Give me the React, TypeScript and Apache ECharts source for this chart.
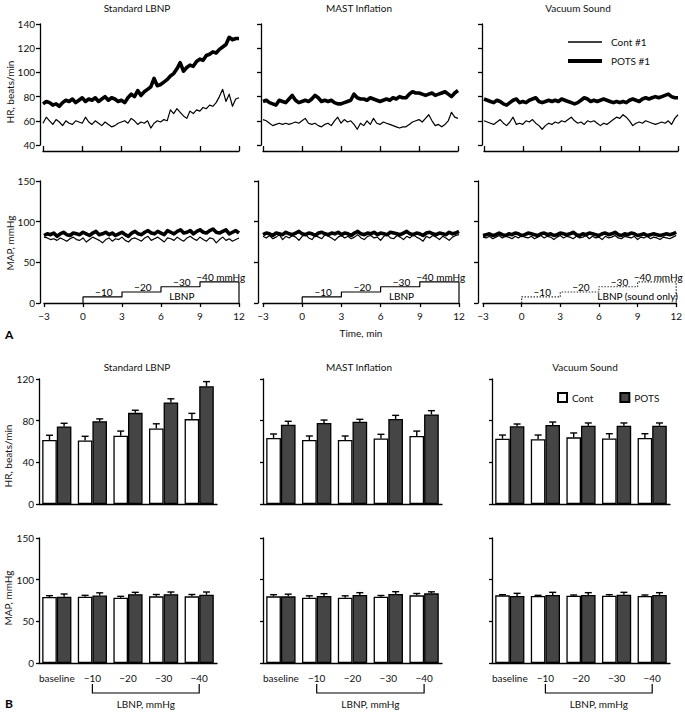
import React, { useEffect, useRef } from 'react';
import * as echarts from 'echarts';

// ---------- DATA ----------
const times = [-3,-2.75,-2.5,-2.25,-2,-1.75,-1.5,-1.25,-1,-0.75,-0.5,-0.25,0,0.25,0.5,0.75,1,1.25,1.5,1.75,2,2.25,2.5,2.75,3,3.25,3.5,3.75,4,4.25,4.5,4.75,5,5.25,5.5,5.75,6,6.25,6.5,6.75,7,7.25,7.5,7.75,8,8.25,8.5,8.75,9,9.25,9.5,9.75,10,10.25,10.5,10.75,11,11.25,11.5,11.75,12];

const hrStdPots = [74,76,75,73,74,72,75,77,76,78,75,77,79,76,78,77,79,76,78,80,77,79,78,76,77,75,79,82,80,85,81,84,86,88,95,89,90,92,94,97,99,103,108,101,104,106,105,109,111,110,114,115,117,116,119,121,123,129,127,128,128];
const hrStdCont = [58,63,60,57,61,59,56,60,58,57,60,59,58,63,59,57,60,58,56,59,57,55,56,58,59,60,58,62,60,57,59,58,60,54,58,60,59,61,60,69,66,70,67,64,62,68,66,69,68,71,70,73,72,75,80,86,76,82,72,78,79];
const hrMastPots = [76,77,75,74,73,77,76,75,78,81,77,75,76,77,76,78,81,79,76,77,76,77,75,74,74,75,76,77,82,79,78,78,77,79,78,77,76,77,78,77,79,78,80,79,79,82,84,83,83,82,81,82,83,81,82,83,84,82,80,83,85];
const hrMastCont = [61,60,58,56,57,58,57,58,57,58,59,58,60,62,58,57,58,56,55,57,58,56,60,63,58,61,59,60,57,53,58,56,60,57,62,58,57,59,58,57,56,55,54,55,55,57,59,60,61,59,62,65,60,56,57,55,57,60,67,63,62];
const hrVacPots = [78,77,76,75,77,76,74,73,75,77,78,75,76,75,77,78,79,76,75,76,77,76,77,76,78,77,76,75,74,75,77,79,78,76,77,76,77,78,77,76,75,76,75,76,75,77,78,77,76,78,79,78,79,80,79,80,81,82,80,79,79];
const hrVacCont = [60,59,58,57,59,61,58,56,59,63,57,58,57,60,59,61,58,56,53,56,58,57,59,58,60,59,61,63,60,58,59,57,60,59,60,58,56,58,57,59,61,63,62,65,63,60,56,58,59,58,60,59,58,57,58,59,58,60,57,62,65];

const mapStdPots = [83,85,84,86,82,85,87,84,83,86,85,84,87,85,83,86,88,84,85,87,84,86,83,85,87,84,82,86,88,85,84,87,89,86,85,88,86,84,89,87,85,88,90,86,87,89,85,88,90,87,86,89,91,87,86,88,90,85,87,89,86];
const mapStdCont = [81,80,78,79,77,80,78,76,79,81,78,77,80,75,78,81,79,77,74,78,80,76,79,78,81,77,75,79,80,78,76,80,82,77,79,81,78,75,80,79,77,81,78,76,80,82,79,77,81,78,76,80,79,74,78,81,77,79,76,78,80];
const mapMastPots = [84,86,85,83,86,85,84,87,85,84,86,88,85,84,86,85,83,86,87,85,84,86,85,87,84,86,85,83,86,88,85,84,86,85,87,84,86,85,84,87,86,85,84,86,88,85,84,86,85,83,86,87,85,84,86,85,84,87,85,86,88];
const mapMastCont = [82,80,83,79,81,84,78,82,80,83,81,77,82,84,80,78,83,81,79,84,82,80,77,81,83,80,82,79,81,84,80,78,82,83,80,81,77,82,84,80,79,83,81,78,82,80,84,81,79,76,82,80,83,81,78,82,80,77,81,83,84];
const mapVacPots = [83,84,85,83,84,86,84,83,85,84,86,85,83,84,86,85,84,83,85,86,84,85,83,84,86,85,84,85,87,84,83,85,84,86,85,84,83,85,86,84,85,87,84,83,85,84,86,85,83,84,85,83,84,85,84,83,84,85,84,85,87];
const mapVacCont = [81,80,82,79,81,83,80,82,81,79,82,80,83,81,80,82,79,81,83,80,82,81,78,81,83,80,82,81,79,82,80,81,83,79,82,80,81,78,82,80,81,83,80,79,82,81,80,82,78,81,80,82,79,81,80,78,81,80,79,81,83];

const lbnpStepStarts = [0, 3, 6, 9];
const lbnpStepEnds = [3, 6, 9, 12];
const lbnpStepHeights = [7.5, 13.5, 20, 26];
const lbnpLabels = ['−10', '−20', '−30', '−40 mmHg'];
const lbnpLabelX = [1.6, 4.6, 7.6, 10.6];

const barCategories = ['baseline', '−10', '−20', '−30', '−40'];

const hrStdContMean = [61.5, 61, 65.5, 72.5, 81.5];
const hrStdContErr = [4.5, 4, 4.5, 4.5, 5.5];
const hrStdPotsMean = [74.5, 79.5, 87.5, 97.5, 113];
const hrStdPotsErr = [3, 2.2, 2.5, 3.5, 4.5];
const hrMastContMean = [63.4, 61.4, 61.4, 63, 65.3];
const hrMastContErr = [3.8, 3.9, 3.9, 3.9, 4.7];
const hrMastPotsMean = [76.2, 77.8, 79, 81.6, 86];
const hrMastPotsErr = [3.2, 2.8, 2.3, 3.5, 3.6];
const hrVacContMean = [62.7, 62.1, 64, 63, 63.4];
const hrVacContErr = [3.5, 4.1, 4.2, 4.5, 4.1];
const hrVacPotsMean = [74.6, 75.8, 75.2, 75.2, 75.2];
const hrVacPotsErr = [2.2, 2.9, 2.6, 2.6, 2.6];

const mapStdContMean = [79.2, 79.6, 78.4, 80, 80];
const mapStdContErr = [1.6, 1.6, 1.6, 2.2, 2.2];
const mapStdPotsMean = [79.6, 81, 82.6, 82.6, 82];
const mapStdPotsErr = [3.2, 3.2, 2.2, 2.6, 3.2];
const mapMastContMean = [80, 78.4, 78.4, 79.6, 81.2];
const mapMastContErr = [2, 2.2, 2.2, 1.4, 2.2];
const mapMastPotsMean = [80, 80.4, 81.6, 82.8, 83.6];
const mapMastPotsErr = [2.6, 2.8, 2.8, 2.8, 1.8];
const mapVacContMean = [81.2, 80.4, 80.8, 80.8, 80.4];
const mapVacContErr = [0.8, 0.8, 0.8, 1.2, 1.2];
const mapVacPotsMean = [80.4, 81.6, 81.6, 82, 81.6];
const mapVacPotsErr = [3.2, 3.2, 2.8, 2.8, 2.8];

const panelTitles = ['Standard LBNP', 'MAST Inflation', 'Vacuum Sound'];
const lineLegendNames = ['Cont #1', 'POTS #1'];

// ---------- LAYOUT / STYLE ----------
const FONT = 'Lato, "DejaVu Sans", sans-serif';
const INK = '#111';
const BAR_GAP = 0.18;
const POTS_W = 3.6;
const CONT_W = 1.2;

const aHrTop = 24, aHrH = 121;
const aMapTop = 181, aMapH = 122;
const bHrTop = 379, bHrH = 125;
const bMapTop = 538, bMapH = 125;
const aHrLefts = [43, 263, 484], aHrWidths = [196, 195, 194], aHrYOff = [3, 2, 2];
const aMapLefts = [44, 263, 483], aMapWidths = [195, 196, 196], aMapYOff = [4, 5, 5];
const bLefts = [39, 263, 492], bWidths = [178, 179, 178];
const titleCentersA = [137, 359, 578];
const titleCentersB = [137, 359, 585];

const axisLine = { show: true, onZero: false, lineStyle: { color: '#000', width: 1.3 } };
const tickStyle = { color: '#000', width: 1.3 };
const labelStyle = { color: INK, fontSize: 10, fontFamily: FONT };

function buildOption() {
  const grid: any[] = [];
  const xAxis: any[] = [];
  const yAxis: any[] = [];
  const series: any[] = [];
  const graphic: any[] = [];

  const hrPots = [hrStdPots, hrMastPots, hrVacPots];
  const hrCont = [hrStdCont, hrMastCont, hrVacCont];
  const mapPots = [mapStdPots, mapMastPots, mapVacPots];
  const mapCont = [mapStdCont, mapMastCont, mapVacCont];
  const bHrC = [hrStdContMean, hrMastContMean, hrVacContMean];
  const bHrCe = [hrStdContErr, hrMastContErr, hrVacContErr];
  const bHrP = [hrStdPotsMean, hrMastPotsMean, hrVacPotsMean];
  const bHrPe = [hrStdPotsErr, hrMastPotsErr, hrVacPotsErr];
  const bMapC = [mapStdContMean, mapMastContMean, mapVacContMean];
  const bMapCe = [mapStdContErr, mapMastContErr, mapVacContErr];
  const bMapP = [mapStdPotsMean, mapMastPotsMean, mapVacPotsMean];
  const bMapPe = [mapStdPotsErr, mapMastPotsErr, mapVacPotsErr];

  const pairs = (arr: number[]) => times.map((t, i) => [t, arr[i]]);
  const traceSeries = (gi: number, name: string, arr: number[], w: number) => ({
    name, type: 'line', xAxisIndex: gi, yAxisIndex: gi, data: pairs(arr),
    symbol: 'none', showSymbol: false, silent: true,
    lineStyle: { color: '#000', width: w, join: 'round' }, itemStyle: { color: '#000' },
  });

  // A HR grids 0..2
  for (let p = 0; p < 3; p++) {
    const gi = grid.length;
    grid.push({ left: aHrLefts[p], top: aHrTop, width: aHrWidths[p], height: aHrH });
    xAxis.push({
      gridIndex: gi, type: 'value', min: -3, max: 12, interval: 3, offset: 6,
      axisLine, axisTick: { show: true, inside: true, length: 5, lineStyle: tickStyle },
      axisLabel: { show: false }, splitLine: { show: false },
    });
    yAxis.push({
      gridIndex: gi, type: 'value', min: 40, max: 140, interval: 20, offset: aHrYOff[p],
      axisLine, axisTick: { show: true, length: 4, lineStyle: tickStyle },
      axisLabel: { ...labelStyle, show: p === 0, margin: 5 }, splitLine: { show: false },
    });
    series.push(traceSeries(gi, lineLegendNames[1], hrPots[p], POTS_W));
    series.push(traceSeries(gi, lineLegendNames[0], hrCont[p], CONT_W));
  }

  // A MAP grids 3..5
  for (let p = 0; p < 3; p++) {
    const gi = grid.length;
    grid.push({ left: aMapLefts[p], top: aMapTop, width: aMapWidths[p], height: aMapH });
    xAxis.push({
      gridIndex: gi, type: 'value', min: -3, max: 12, interval: 3,
      axisLine, axisTick: { show: true, length: 4, lineStyle: tickStyle },
      axisLabel: { ...labelStyle, margin: 8, formatter: (v: number) => (v < 0 ? '−' + Math.abs(v) : String(v)) },
      splitLine: { show: false },
      name: p === 1 ? 'Time, min' : '', nameLocation: 'middle', nameGap: 25,
      nameTextStyle: { ...labelStyle },
    });
    yAxis.push({
      gridIndex: gi, type: 'value', min: 0, max: 150, interval: 50, offset: aMapYOff[p],
      axisLine, axisTick: { show: true, length: 4, lineStyle: tickStyle },
      axisLabel: { ...labelStyle, show: p === 0, margin: 5 }, splitLine: { show: false },
    });
    series.push(traceSeries(gi, lineLegendNames[1], mapPots[p], POTS_W));
    series.push(traceSeries(gi, lineLegendNames[0], mapCont[p], CONT_W));

    const stepPts: number[][] = [[lbnpStepStarts[0], 0]];
    lbnpStepStarts.forEach((s, i) => {
      stepPts.push([s, lbnpStepHeights[i]]);
      stepPts.push([lbnpStepEnds[i], lbnpStepHeights[i]]);
    });
    stepPts.push([lbnpStepEnds[lbnpStepEnds.length - 1], 0]);
    const dotted = p === 2;
    series.push({
      name: 'lbnp-step', type: 'line', xAxisIndex: gi, yAxisIndex: gi, data: stepPts,
      symbol: 'none', silent: true, z: 3,
      lineStyle: { color: dotted ? '#333' : '#000', width: 1.2, type: dotted ? [1.5, 1.5] : 'solid' },
    });
    const lbls: any[] = lbnpLabels.map((txt, i) => ({ value: [lbnpLabelX[i], lbnpStepHeights[i]], name: txt }));
    lbls.push({
      value: [dotted ? 9.0 : 7.6, 8], name: dotted ? 'LBNP (sound only)' : 'LBNP',
      label: { position: 'inside' },
    });
    series.push({
      name: 'lbnp-labels', type: 'scatter', xAxisIndex: gi, yAxisIndex: gi, data: lbls,
      symbol: 'circle', symbolSize: 0.01, itemStyle: { color: '#000', opacity: 1 }, silent: true, z: 4,
      label: {
        show: true, position: 'top', distance: 0, formatter: '{b}',
        color: '#000', opacity: 1, fontSize: 10, fontFamily: FONT, textBorderWidth: 0,
      },
    });
  }

  const errSeries = (gi: number, means: number[], errs: number[], side: number) => ({
    name: 'err', type: 'custom', xAxisIndex: gi, yAxisIndex: gi, z: 5, silent: true,
    data: means.map((m, i) => [i, m, errs[i]]),
    renderItem: (_params: any, api: any) => {
      const i = api.value(0), m = api.value(1), e = api.value(2);
      const base = api.coord([i, m]);
      const top = api.coord([i, m + e]);
      const bw = api.size([1, 0])[0];
      const barW = (bw * (1 - BAR_GAP)) / 2;
      const x = base[0] + (side * barW) / 2;
      const cap = 3.5;
      const st = { stroke: '#000', lineWidth: 1.4 };
      return {
        type: 'group',
        children: [
          { type: 'line', shape: { x1: x, y1: base[1], x2: x, y2: top[1] }, style: st },
          { type: 'line', shape: { x1: x - cap, y1: top[1], x2: x + cap, y2: top[1] }, style: st },
        ],
      };
    },
  });

  const barPair = (gi: number, cm: number[], ce: number[], pm: number[], pe: number[]) => {
    series.push({
      name: 'Cont', type: 'bar', xAxisIndex: gi, yAxisIndex: gi, data: cm,
      barGap: '0%', barCategoryGap: BAR_GAP * 100 + '%', silent: true,
      itemStyle: { color: '#fff', borderColor: '#000', borderWidth: 1.3 },
    });
    series.push({
      name: 'POTS', type: 'bar', xAxisIndex: gi, yAxisIndex: gi, data: pm,
      barGap: '0%', barCategoryGap: BAR_GAP * 100 + '%', silent: true,
      itemStyle: { color: '#454545', borderColor: '#000', borderWidth: 1.3 },
    });
    series.push(errSeries(gi, cm, ce, -1));
    series.push(errSeries(gi, pm, pe, 1));
  };

  // B HR grids 6..8
  for (let p = 0; p < 3; p++) {
    const gi = grid.length;
    grid.push({ left: bLefts[p], top: bHrTop, width: bWidths[p], height: bHrH });
    xAxis.push({
      gridIndex: gi, type: 'category', data: barCategories,
      axisLine, axisTick: { show: false }, axisLabel: { show: false },
    });
    yAxis.push({
      gridIndex: gi, type: 'value', min: 0, max: 120, interval: 40,
      axisLine, axisTick: { show: true, length: 3, lineStyle: tickStyle },
      axisLabel: { ...labelStyle, show: p === 0, margin: 5 }, splitLine: { show: false },
    });
    barPair(gi, bHrC[p], bHrCe[p], bHrP[p], bHrPe[p]);
  }

  // B MAP grids 9..11
  for (let p = 0; p < 3; p++) {
    const gi = grid.length;
    grid.push({ left: bLefts[p], top: bMapTop, width: bWidths[p], height: bMapH });
    xAxis.push({
      gridIndex: gi, type: 'category', data: barCategories,
      axisLine, axisTick: { show: false }, axisLabel: { ...labelStyle, margin: 10, interval: 0 },
    });
    yAxis.push({
      gridIndex: gi, type: 'value', min: 0, max: 150, interval: 50,
      axisLine, axisTick: { show: true, length: 3, lineStyle: tickStyle },
      axisLabel: { ...labelStyle, show: p === 0, margin: 5 }, splitLine: { show: false },
    });
    barPair(gi, bMapC[p], bMapCe[p], bMapP[p], bMapPe[p]);

    const bw = bWidths[p] / barCategories.length;
    const x1 = bLefts[p] + bw * 1.5;
    const x2 = bLefts[p] + bw * 4.5;
    graphic.push({
      type: 'polyline', silent: true,
      shape: { points: [[x1, 684], [x1, 693], [x2, 693], [x2, 684]] },
      style: { stroke: '#000', lineWidth: 1.2, fill: null },
    });
    graphic.push({
      type: 'text', x: (x1 + x2) / 2, y: 704,
      style: { text: 'LBNP, mmHg', fill: INK, font: `10px ${FONT}`, align: 'center', verticalAlign: 'middle' },
    });
  }

  // titles
  panelTitles.forEach((t, p) => {
    graphic.push({
      type: 'text', x: titleCentersA[p], y: 8,
      style: { text: t, fill: INK, font: `10px ${FONT}`, align: 'center', verticalAlign: 'middle' },
    });
    graphic.push({
      type: 'text', x: titleCentersB[p], y: 367,
      style: { text: t, fill: INK, font: `10px ${FONT}`, align: 'center', verticalAlign: 'middle' },
    });
  });

  const yName = (text: string, x: number, y: number) => ({
    type: 'text', x, y, rotation: Math.PI / 2,
    style: { text, fill: INK, font: `10px ${FONT}`, align: 'center', verticalAlign: 'middle' },
  });
  graphic.push(yName('HR, beats/min', 10, 92));
  graphic.push(yName('MAP, mmHg', 10, 243));
  graphic.push(yName('HR, beats/min', 8, 456));
  graphic.push(yName('MAP, mmHg', 8, 598));

  // line legend (panel A, Vacuum Sound)
  const legY = [42, 61];
  const legW = [CONT_W + 0.2, POTS_W + 0.4];
  lineLegendNames.forEach((nm, i) => {
    graphic.push({
      type: 'line', silent: true,
      shape: { x1: 568, y1: legY[i], x2: 602, y2: legY[i] },
      style: { stroke: '#000', lineWidth: legW[i] },
    });
    graphic.push({
      type: 'text', x: 611, y: legY[i],
      style: { text: nm, fill: INK, font: `10px ${FONT}`, align: 'left', verticalAlign: 'middle' },
    });
  });

  graphic.push({
    type: 'text', x: 5, y: 334,
    style: { text: 'A', fill: '#000', font: `bold 12px ${FONT}`, align: 'left', verticalAlign: 'middle' },
  });
  graphic.push({
    type: 'text', x: 5, y: 703,
    style: { text: 'B', fill: '#000', font: `bold 12px ${FONT}`, align: 'left', verticalAlign: 'middle' },
  });

  return {
    animation: false,
    backgroundColor: '#fff',
    textStyle: { fontFamily: FONT },
    grid, xAxis, yAxis, series, graphic,
    legend: [
      {
        data: ['Cont', 'POTS'], orient: 'horizontal', left: 552, top: 387, icon: 'rect',
        itemWidth: 9, itemHeight: 9, itemGap: 26, selectedMode: false,
        textStyle: { ...labelStyle },
      },
    ],
  };
}

export default function App() {
  const ref = useRef<HTMLDivElement>(null);
  useEffect(() => {
    if (!ref.current) return;
    const chart = echarts.init(ref.current, null, { renderer: 'svg' });
    chart.setOption(buildOption() as any);
    return () => chart.dispose();
  }, []);
  return (
    <div
      ref={ref}
      style={{ position: 'absolute', left: 0, top: 0, width: 685, height: 713, background: '#fff' }}
    />
  );
}
